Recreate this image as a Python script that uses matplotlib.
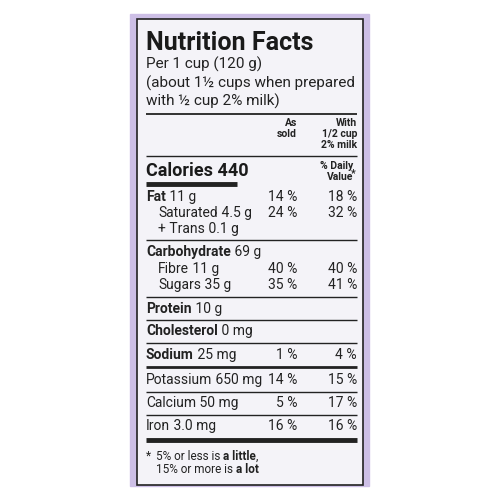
import matplotlib
matplotlib.use("Agg")
import matplotlib.pyplot as plt
from matplotlib.patches import Rectangle

FONT = ["Roboto", "DejaVu Sans"]
plt.rcParams['font.family'] = FONT

nutrients = ["Fat", "Saturated", "+ Trans", "Carbohydrate", "Fibre", "Sugars",
             "Protein", "Cholesterol", "Sodium", "Potassium", "Calcium", "Iron"]
amounts = ["11 g", "4.5 g", "0.1 g", "69 g", "11 g", "35 g",
           "10 g", "0 mg", "25 mg", "650 mg", "50 mg", "3.0 mg"]
dv_sold = ["14 %", "24 %", "", "", "40 %", "35 %", "", "", "1 %", "14 %", "5 %", "16 %"]
dv_milk = ["18 %", "32 %", "", "", "40 %", "41 %", "", "", "4 %", "15 %", "17 %", "16 %"]
bold_name = [True, False, False, True, False, False, True, True, True, False, False, False]
indent = [False, True, True, False, True, True, False, False, False, False, False, False]
row_y = [197, 213, 229, 252, 269, 285, 309, 331, 355, 380, 403, 426]

fig = plt.figure(figsize=(5, 5), dpi=100)
ax = fig.add_axes([0, 0, 1, 1])
ax.set_xlim(0, 500); ax.set_ylim(500, 0); ax.axis("off")
fig.patch.set_facecolor("white")

ax.add_patch(Rectangle((130, 14), 239, 472, color="#cdbfe6", zorder=0))
ax.add_patch(Rectangle((137, 19), 226, 466, facecolor="#f4f3f8", edgecolor="#222222", lw=1.2, zorder=1))

L, R, C1 = 146, 357, 297
def hline(y, lw=1.0, x0=L, x1=R):
    ax.plot([x0, x1], [y, y], color="#222222", lw=lw, solid_capstyle="butt", zorder=2)

fig.canvas.draw()
rend = fig.canvas.get_renderer()
inv = ax.transData.inverted()
def mixed(x, y, parts, size):
    for txt, bold in parts:
        t = ax.text(x, y, txt, fontsize=size, fontweight="bold" if bold else "normal",
                    va="baseline", color="#222222")
        bb = t.get_window_extent(rend)
        x = inv.transform((bb.x1, bb.y0))[0]

ax.text(L, 50, "Nutrition Facts", fontsize=18, fontweight="bold", va="baseline", color="#1a1a1a")
for y, t in [(69, "Per 1 cup (120 g)"), (88, "(about 1½ cups when prepared"), (106, "with ½ cup 2% milk)")]:
    ax.text(L, y, t, fontsize=11, va="baseline", color="#222222")
hline(114, 1.3)
for y, t in [(126, "As"), (137, "sold")]:
    ax.text(C1, y, t, fontsize=7.5, fontweight="bold", ha="right", va="baseline", color="#222222")
for y, t in [(126, "With"), (137, "1/2 cup"), (148, "2% milk")]:
    ax.text(R, y, t, fontsize=7.5, fontweight="bold", ha="right", va="baseline", color="#222222")
hline(156, 1.0)
ax.text(L, 176, "Calories 440", fontsize=13, fontweight="bold", va="baseline", color="#1a1a1a")
ax.text(R - 4, 169, "% Daily", fontsize=7.5, fontweight="bold", ha="right", va="baseline", color="#222222")
ax.text(R - 4, 180, "Value", fontsize=7.5, fontweight="bold", ha="right", va="baseline", color="#222222")
ax.text(R - 1, 176, "*", fontsize=7.5, fontweight="bold", ha="right", va="baseline", color="#222222")
hline(184, 3.5, L, 237)

for i, name in enumerate(nutrients):
    y = row_y[i] + 4
    x = 158 if indent[i] else L
    mixed(x, y, [(name, bold_name[i]), (" " + amounts[i], False)], 10)
    ax.text(C1, y, dv_sold[i], fontsize=10, ha="right", va="baseline", color="#222222")
    ax.text(R, y, dv_milk[i], fontsize=10, ha="right", va="baseline", color="#222222")

hline(240, 1.0); hline(297, 1.0); hline(320, 1.0); hline(343, 1.0)
hline(367, 2.0); hline(392, 1.0); hline(415, 1.0); hline(440, 3.5)
ax.text(L, 460, "*", fontsize=8.5, va="baseline", color="#222222")
mixed(156, 460, [("5% or less is ", False), ("a little", True), (",", False)], 8.5)
mixed(156, 473, [("15% or more is ", False), ("a lot", True)], 8.5)

fig.savefig("out.png", dpi=100, facecolor="white")
